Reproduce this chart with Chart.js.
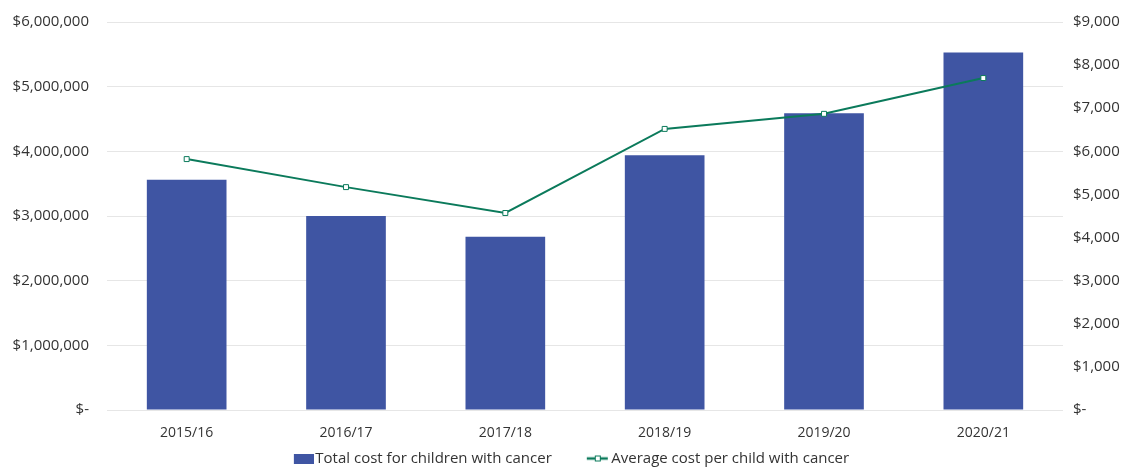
<!DOCTYPE html>
<html>
<head>
<meta charset="utf-8">
<script src="https://cdn.jsdelivr.net/npm/chart.js@4"></script>
<style>
    html, body { margin: 0; padding: 0; background: #fff; }
    #wrap { width: 1137px; height: 468px; }
</style>
</head>
<body>
<div id="wrap"><canvas id="cost-chart" width="1137" height="468"></canvas></div>
<script>
const years = ["2015/16", "2016/17", "2017/18", "2018/19", "2019/20", "2020/21"];
const totalCost = [3560000, 3000000, 2680000, 3940000, 4590000, 5530000];
const avgCost = [5820, 5170, 4570, 6520, 6870, 7700];
const leftTicks = [0, 1000000, 2000000, 3000000, 4000000, 5000000, 6000000];
const rightTicks = [0, 1000, 2000, 3000, 4000, 5000, 6000, 7000, 8000, 9000];

const barColor = "#3f55a3";
const lineColor = "#0b7a5b";

function money(v) {
    if (v === 0) return "$-";
    return "$" + v.toLocaleString("en-US");
}

// legend icons: wide canvas, icon drawn at the right end so it hugs the text
// (the blank left part gives the gap between the two legend items)
function makeIcon(draw) {
    const c = document.createElement("canvas");
    c.width = 58;
    c.height = 10;
    draw(c.getContext("2d"));
    return c;
}
const barIcon = makeIcon((g) => {
    g.fillStyle = barColor;
    g.fillRect(38, 0, 20, 10);
});
const lineIcon = makeIcon((g) => {
    g.strokeStyle = lineColor;
    g.lineWidth = 2.5;
    g.beginPath();
    g.moveTo(35, 5);
    g.lineTo(56, 5);
    g.stroke();
    g.fillStyle = "#fff";
    g.fillRect(43.5, 2.5, 5, 5);
    g.lineWidth = 1;
    g.strokeRect(43.5, 2.5, 5, 5);
});

Chart.defaults.font.family = "'Open Sans', sans-serif";
Chart.defaults.font.size = 14;
Chart.defaults.color = "#333";

new Chart(document.getElementById("cost-chart"), {
    type: "bar",
    data: {
        labels: years,
        datasets: [
            {
                type: "line",
                label: "Average cost per child with cancer",
                data: avgCost,
                yAxisID: "yRight",
                borderColor: lineColor,
                borderWidth: 2,
                pointStyle: "rect",
                pointRadius: 3.5,
                pointBorderWidth: 1,
                pointBackgroundColor: "#fff",
                pointBorderColor: lineColor,
                tension: 0,
                order: 0
            },
            {
                label: "Total cost for children with cancer",
                data: totalCost,
                yAxisID: "y",
                backgroundColor: barColor,
                borderWidth: 0,
                barPercentage: 0.5,
                categoryPercentage: 1,
                order: 1
            }
        ]
    },
    options: {
        responsive: false,
        animation: false,
        layout: { padding: { top: 22, left: -26, right: 0, bottom: -8 } },
        plugins: {
            tooltip: { enabled: false },
            legend: {
                position: "bottom",
                labels: {
                    usePointStyle: true,
                    pointStyleWidth: 46,
                    padding: 6,
                    font: { size: 15 },
                    generateLabels(chart) {
                        const items = Chart.defaults.plugins.legend.labels.generateLabels(chart);
                        items.forEach((it) => {
                            it.pointStyle = it.datasetIndex === 1 ? barIcon : lineIcon;
                        });
                        return items.reverse();
                    }
                }
            }
        },
        scales: {
            x: {
                grid: { display: false, drawTicks: false },
                border: { display: false },
                ticks: { padding: 15 },
                afterFit(axis) { axis.height = 35; }
            },
            y: {
                position: "left",
                min: 0,
                max: 6000000,
                afterBuildTicks(axis) { axis.ticks = leftTicks.map((v) => ({ value: v })); },
                ticks: { callback: money, padding: 18, font: { size: 15 } },
                grid: { color: "#e6e6e6", drawTicks: false },
                border: { display: false },
                afterFit(axis) {
                    axis.width = 133;
                    axis.paddingTop = 0;
                }
            },
            yRight: {
                position: "right",
                min: 0,
                max: 9000,
                afterBuildTicks(axis) { axis.ticks = rightTicks.map((v) => ({ value: v })); },
                ticks: { callback: money, padding: 10, font: { size: 15 } },
                grid: { display: false, drawTicks: false },
                border: { display: false },
                afterFit(axis) {
                    axis.width = 74;
                    axis.paddingTop = 0;
                }
            }
        }
    }
});
</script>
</body>
</html>
